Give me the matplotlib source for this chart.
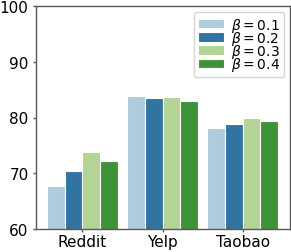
import matplotlib
matplotlib.use("Agg")
import matplotlib.pyplot as plt
import numpy as np
import seaborn as sns

categories = ["Reddit", "Yelp", "Taobao"]
series_labels = [r"$\beta=0.1$", r"$\beta=0.2$", r"$\beta=0.3$", r"$\beta=0.4$"]
values = {
    r"$\beta=0.1$": [67.65, 83.8, 78.1],
    r"$\beta=0.2$": [70.35, 83.45, 78.9],
    r"$\beta=0.3$": [73.85, 83.75, 79.9],
    r"$\beta=0.4$": [72.15, 83.0, 79.3],
}
yticks = [60, 70, 80, 90, 100]

base = sns.color_palette("Paired", 4)
colors = [sns.desaturate(c, 0.75) for c in base]

fig = plt.figure(figsize=(2.91, 2.53), dpi=100)
ax = fig.add_axes([36/291, 1-230/253, (290-36)/291, (230-7)/253])

n = len(series_labels)
group_w = 0.88
bw = group_w / n
x = np.arange(len(categories))
for i, lab in enumerate(series_labels):
    ax.bar(x - group_w/2 + bw*(i+0.5), values[lab], width=bw, color=colors[i],
           edgecolor="white", linewidth=0.8, label=lab)

ax.set_xlim(-0.58, 2.59)
ax.set_ylim(60, 100)
ax.set_yticks(yticks)
ax.set_xticks(x)
ax.set_xticklabels(categories)
ax.tick_params(labelsize=11, color="0.35", width=1)
ax.tick_params(axis="x", length=2.2, pad=1.5)
ax.tick_params(axis="y", length=2.5, pad=2.8)
for s in ax.spines.values():
    s.set_color("0.35")
    s.set_linewidth(1)
ax.legend(loc="upper right", fontsize=10, labelspacing=-0.35, handlelength=1.9,
          handleheight=0.65, handletextpad=0.5, borderpad=0.3, borderaxespad=0.4,
          frameon=True, framealpha=0.8, edgecolor="0.8", fancybox=True)
fig.savefig("out.png", dpi=100)
